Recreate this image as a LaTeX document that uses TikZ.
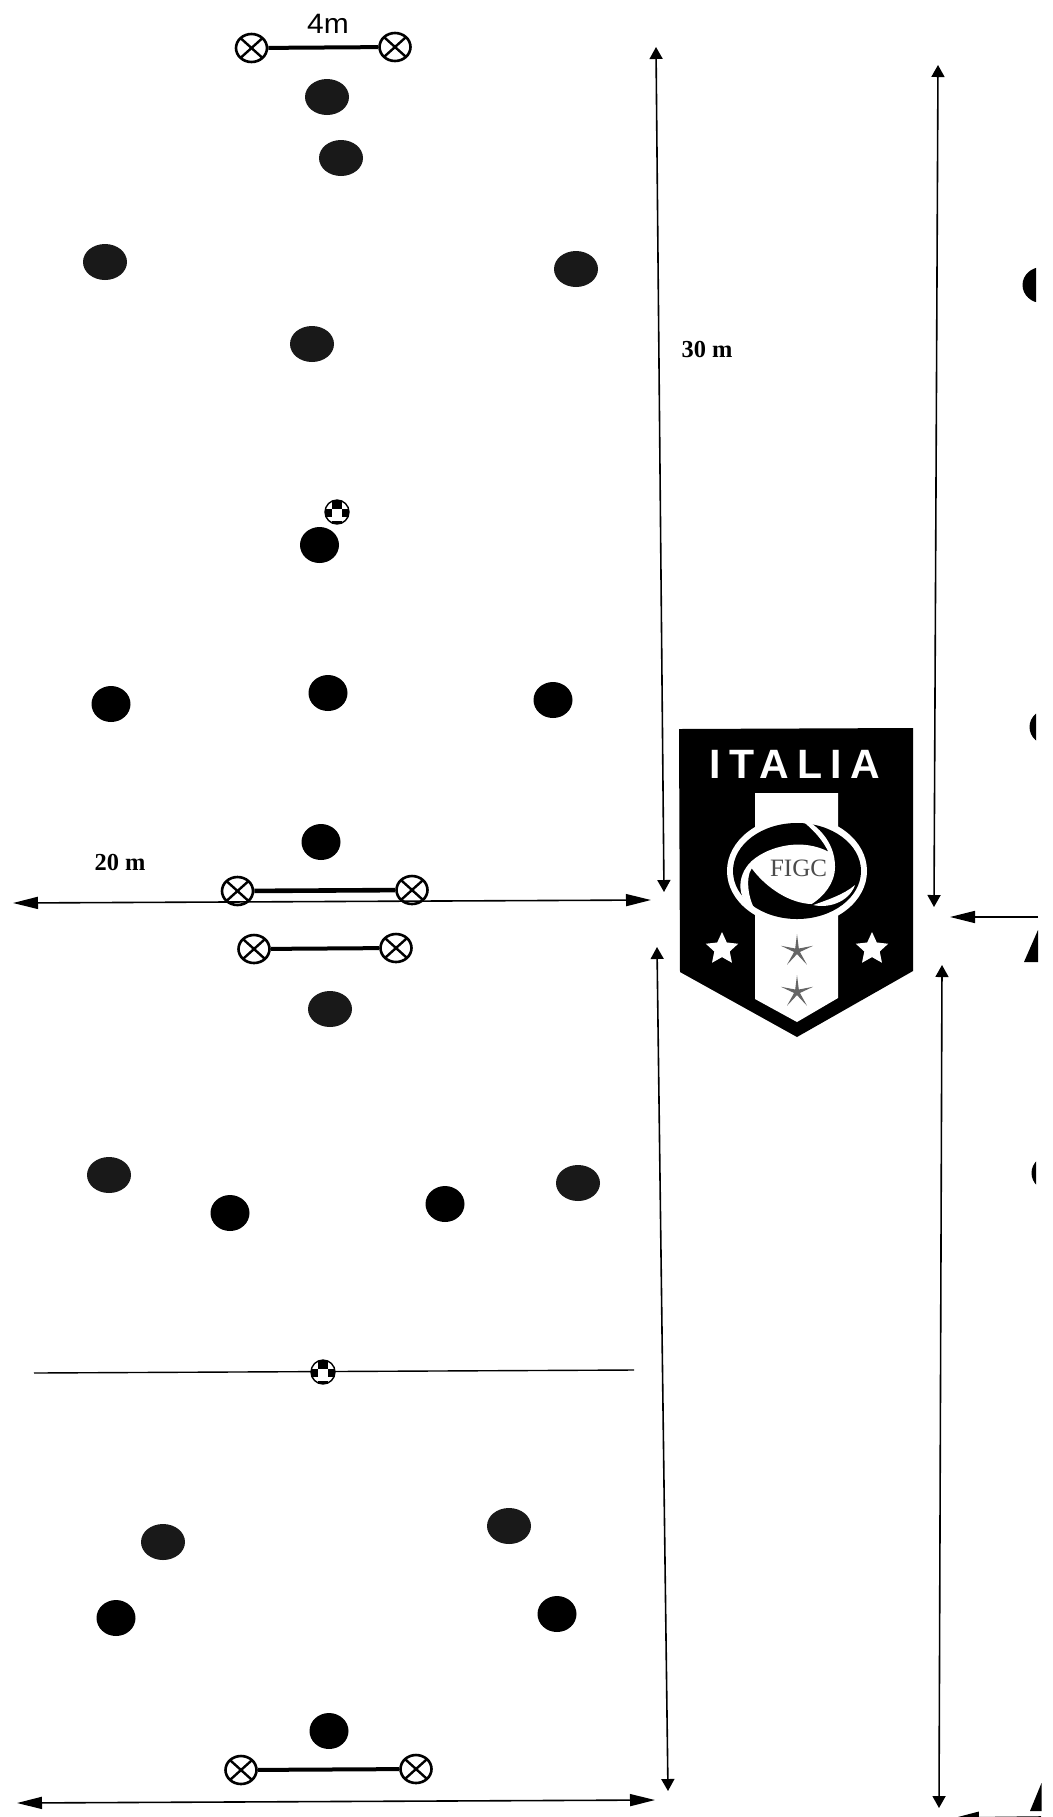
\documentclass[tikz,border=0pt]{standalone}
\usepackage{fontspec}
\setmainfont{Liberation Serif}
\setsansfont{Liberation Sans}
\newfontfamily\italiafont[LetterSpace=20]{Liberation Sans Bold}
\usetikzlibrary{shapes.geometric,arrows.meta}
\tikzset{
  blobwide/.style={ellipse,fill=black!90,inner sep=0pt,minimum width=22pt,minimum height=18pt},
  blobround/.style={ellipse,fill=black,inner sep=0pt,minimum width=19.5pt,minimum height=18pt},
  postnode/.style={ellipse,draw=black,line width=1.3pt,fill=white,inner sep=0pt,minimum width=15.5pt,minimum height=14pt,
    path picture={\draw[line width=1.2pt] (path picture bounding box.north west) -- (path picture bounding box.south east);
                  \draw[line width=1.2pt] (path picture bounding box.north east) -- (path picture bounding box.south west);}},
  goalbar/.style={line width=2pt,black},
  ballnode/.style={circle,draw=black,line width=0.7pt,fill=white,inner sep=0pt,minimum size=12pt,
    path picture={\fill[black] ([shift={(-2.5pt,6pt)}]path picture bounding box.center) rectangle ([shift={(2.5pt,1.5pt)}]path picture bounding box.center);
                  \fill[black] ([shift={(-6pt,1.5pt)}]path picture bounding box.center) rectangle ([shift={(-2.5pt,-2.5pt)}]path picture bounding box.center);
                  \fill[black] ([shift={(2.5pt,1.5pt)}]path picture bounding box.center) rectangle ([shift={(6pt,-2.5pt)}]path picture bounding box.center);
                  \fill[black] ([shift={(-2.5pt,-4.5pt)}]path picture bounding box.center) rectangle ([shift={(2.5pt,-6pt)}]path picture bounding box.center);}},
  harrow/.style={line width=0.8pt,{Triangle[length=12.5pt,width=6pt]}-{Triangle[length=12.5pt,width=6pt]}},
  harrowone/.style={line width=0.8pt,-{Triangle[length=12.5pt,width=6pt]}},
  varrow/.style={line width=0.8pt,{Triangle[length=6pt,width=6.5pt]}-{Triangle[length=6pt,width=6.5pt]}},
  plainline/.style={line width=0.7pt},
  measure/.style={font=\rmfamily\bfseries\fontsize{12.2}{14}\selectfont,inner sep=0pt},
  whitestar/.style={star,star points=5,star point ratio=2.1,fill=white,inner sep=0pt,minimum size=17pt},
  darkstar/.style={star,star points=5,star point ratio=5.5,fill=black!60,inner sep=0pt,minimum size=17pt},
}
\begin{document}
\begin{tikzpicture}[x=0.5pt,y=-0.5pt]
\useasboundingbox (0,0) rectangle (1053,1817);
\fill[white] (0,0) rectangle (1053,1817);

% top section
\node[postnode] (p1) at (251.5,48) {};
\node[postnode] (p2) at (395,47) {};
\draw[goalbar] (p1) -- (p2);
\node[font=\sffamily\fontsize{14}{16}\selectfont,inner sep=0pt,xscale=1.07] (fourm) at (328,23.5) {4m};

\node[blobwide] (a1) at (327,97) {};
\node[blobwide] (a2) at (341,158) {};
\node[blobwide] (a3) at (105,262) {};
\node[blobwide] (a4) at (576,269) {};
\node[blobwide] (a5) at (312,344) {};
\node[ballnode] (ball1) at (337,512) {};
\node[blobround] (a6) at (319.5,545) {};
\node[blobround] (a7) at (111,704) {};
\node[blobround] (a8) at (328,693) {};
\node[blobround] (a9) at (553,700) {};
\node[blobround] (a10) at (321,842) {};

\node[measure] (twenty) at (120,862) {20 m};
\node[measure] (thirty) at (707,349) {30 m};

% middle goal
\node[postnode] (p3) at (237.5,891) {};
\node[postnode] (p4) at (412,890) {};
\draw[goalbar,line width=2.3pt] (p3) -- (p4);
\coordinate (hl) at (13,903);
\coordinate (hr) at (651,900);
\draw[harrow] (hl) -- (hr);

\node[postnode] (p5) at (254,949) {};
\node[postnode] (p6) at (396,948) {};
\draw[goalbar] (p5) -- (p6);

% lower section
\node[blobwide] (b1) at (330,1009) {};
\node[blobwide] (b2) at (109,1175) {};
\node[blobround] (b3) at (230,1213) {};
\node[blobround] (b4) at (445,1204) {};
\node[blobwide] (b5) at (578,1183) {};
\coordinate (ml) at (34,1373);
\coordinate (mr) at (634,1370);
\draw[plainline] (ml) -- (mr);
\node[ballnode] (ball2) at (323,1372) {};
\node[blobwide] (b6) at (163,1542) {};
\node[blobwide] (b7) at (509,1526) {};
\node[blobround] (b8) at (116,1618) {};
\node[blobround] (b9) at (557,1614) {};
\node[blobround] (b10) at (329,1731) {};

\node[postnode] (p7) at (241,1770) {};
\node[postnode] (p8) at (416,1769) {};
\draw[goalbar] (p7) -- (p8);
\coordinate (bl) at (17,1803);
\coordinate (br) at (655,1800);
\draw[harrow] (bl) -- (br);

% vertical dimensions
\coordinate (v1t) at (656,47);
\coordinate (v1b) at (664,892);
\draw[varrow] (v1t) -- (v1b);
\coordinate (v2t) at (657,947);
\coordinate (v2b) at (668,1791);
\draw[varrow] (v2t) -- (v2b);
\coordinate (v3t) at (938,65);
\coordinate (v3b) at (934,907);
\draw[varrow] (v3t) -- (v3b);
\coordinate (v4t) at (942,965);
\coordinate (v4b) at (939,1808);
\draw[varrow] (v4t) -- (v4b);

% cut-off right side
\coordinate (rr) at (1038,917);
\coordinate (rl) at (950,917);
\draw[harrowone] (rr) -- (rl);
\coordinate (rr2) at (1041,1817);
\coordinate (rl2) at (954,1818);
\draw[harrowone] (rr2) -- (rl2);
\begin{scope}
\clip (0,0) rectangle (1036,1817);
\node[blobround] (c1) at (1042,285) {};
\node[blobround] (c2) at (1049,727) {};
\node[blobround] (c3) at (1051,1173) {};
\end{scope}
\fill (1038,930) -- (1038,962) -- (1024,962) -- cycle;
\fill (1041.5,1783) -- (1041.5,1811) -- (1030,1811) -- cycle;

% shield
\fill[black] (679,729) -- (913,728) -- (913,971) -- (797,1037) -- (680,972) -- cycle;
\fill[white] (755,793) -- (838,793) -- (838,998) -- (797,1022) -- (755,999) -- cycle;
\node[font=\italiafont\fontsize{20.5}{22}\selectfont,text=white,inner sep=0pt] (italia) at (795,764) {ITALIA};
\fill[white] (797,871) ellipse [x radius=70,y radius=55];
\fill[black] (797,871) ellipse [x radius=64,y radius=48];
\begin{scope}[shift={(720,805)},x=0.1667pt,y=-0.1667pt]
\fill[white] (215,25) .. controls (290,50) and (345,110) .. (345,185)
  .. controls (345,235) and (310,275) .. (275,297)
  .. controls (210,295) and (140,250) .. (95,190)
  .. controls (75,220) and (85,290) .. (112,325)
  .. controls (50,290) and (45,215) .. (95,168)
  .. controls (150,120) and (250,100) .. (325,140)
  .. controls (300,90) and (260,55) .. (215,25) -- cycle;
\fill[white] (280,300) .. controls (320,285) and (370,270) .. (405,240)
  .. controls (385,295) and (320,310) .. (280,300) -- cycle;
\end{scope}
\node[font=\rmfamily\fontsize{12.5}{14}\selectfont,text=black!70,inner sep=0pt] (figc) at (798.5,868.5) {FIGC};
\node[whitestar] (s1) at (722,949) {};
\node[whitestar] (s2) at (872,949) {};
\node[darkstar] (s3) at (797,951) {};
\node[darkstar] (s4) at (797,992) {};
\end{tikzpicture}
\end{document}
